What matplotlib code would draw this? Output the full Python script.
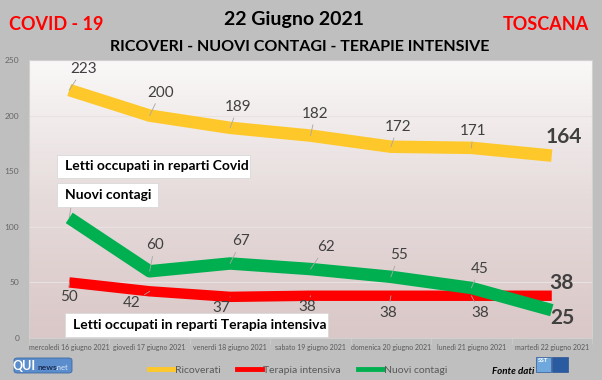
import matplotlib.pyplot as plt
import numpy as np
from matplotlib.colors import LinearSegmentedColormap
from matplotlib.lines import Line2D
from matplotlib.patches import Rectangle, FancyBboxPatch

plt.rcParams['font.family'] = ['Lato', 'DejaVu Sans']

days = ['mercoledì 16 giugno 2021', 'giovedì 17 giugno 2021', 'venerdì 18 giugno 2021',
        'sabato 19 giugno 2021', 'domenica 20 giugno 2021', 'lunedì 21 giugno 2021',
        'martedì 22 giugno 2021']
ricoverati = [223, 200, 189, 182, 172, 171, 164]
terapia = [50, 42, 37, 38, 38, 38, 38]
contagi = [108, 60, 67, 62, 55, 45, 25]

# label offsets in pixels (dx, dy), None = no label
off_ric = [(14, 21), (11, 23), (8, 21), (5, 22), (7, 20), (2, 17), (12, 19)]
off_ter = [(0, -15), (-18, -12), (-9, -11), (-3, -11), (-3, -17), (9, -17), (10, 13)]
off_con = [None, (5, 26), (11, 22), (15, 22), (8, 22), (8, 19), (11, -8)]

W, H = 602, 380
fig = plt.figure(figsize=(W / 100, H / 100), dpi=100)
fig.patch.set_facecolor('#bfbfbf')


def px(x, y):
    return x / W, 1 - y / H


ax = fig.add_axes([29 / W, (H - 338) / H, 563 / W, 278 / H])
ax.set_facecolor('none')
cmap = LinearSegmentedColormap.from_list('bg', ['#dac7c7', '#e6dbdb', '#faf8f8'])
grad = np.linspace(0, 1, 256).reshape(-1, 1)
ax.imshow(grad, extent=[0, 1, 0, 1], transform=ax.transAxes, aspect='auto',
          cmap=cmap, origin='lower', zorder=0)

x = np.arange(len(days))
ax.plot(x, ricoverati, color='#ffc82a', lw=9, solid_capstyle='butt', zorder=3)
ax.plot(x, terapia, color='#ff0000', lw=7.5, solid_capstyle='butt', zorder=3)
ax.plot(x, contagi, color='#00b050', lw=9, solid_capstyle='butt', zorder=4)

ax.set_xlim(-0.5, 6.5)
ax.set_ylim(0, 250)
ax.set_yticks(range(0, 251, 50))
ax.yaxis.grid(True, color='#e9e2e2', lw=0.8)
ax.set_axisbelow(True)
for side in ['top', 'left', 'right']:
    ax.spines[side].set_visible(False)
ax.spines['bottom'].set_color('#d0cccc')
ax.tick_params(axis='y', length=0, pad=7, labelsize=6, labelcolor='#666666')
ax.set_xticks(x)
ax.set_xticklabels(days)
ax.set_xticks(np.arange(-0.5, 7, 1), minor=True)
ax.tick_params(axis='x', which='major', length=0, pad=4, labelsize=5, labelcolor='#595959')
ax.tick_params(axis='x', which='minor', length=4, color='#d0cccc')


def labels(vals, offs, last_big):
    for i, (v, o) in enumerate(zip(vals, offs)):
        if o is None:
            continue
        big = last_big and i == len(vals) - 1
        if big:
            ax.annotate(str(v), (i, v), xytext=o, textcoords='offset pixels',
                        ha='center', va='center', fontsize=15, fontweight='bold',
                        color='#404040', zorder=6)
        else:
            ax.annotate(str(v), (i, v), xytext=o, textcoords='offset pixels',
                        ha='center', va='center', fontsize=11, color='#404040',
                        zorder=6,
                        arrowprops=dict(arrowstyle='-', color='#a6a6a6', lw=0.6,
                                        shrinkA=1, shrinkB=0))


labels(ricoverati, off_ric, True)
labels(terapia, off_ter, True)
labels(contagi, off_con, True)

# first green point leader to box
ax.annotate('', (0, contagi[0]), xytext=(2, 12), textcoords='offset pixels',
            arrowprops=dict(arrowstyle='-', color='#a6a6a6', lw=0.6, shrinkA=0, shrinkB=0))

# plot area border
fig.patches.append(Rectangle(px(29, 338), 563 / W, 278 / H, transform=fig.transFigure,
                             fill=False, ec='#d4d0d0', lw=0.8, zorder=1))

# annotation boxes
boxes = [('Letti occupati in reparti Covid', 57, 155, 250, 178),
         ('Nuovi contagi', 57, 183, 158, 207),
         ('Letti occupati in reparti Terapia intensiva', 65, 313, 328, 337)]
for txt, x0, y0, x1, y1 in boxes:
    fig.patches.append(Rectangle(px(x0, y1), (x1 - x0) / W, (y1 - y0) / H,
                                 transform=fig.transFigure, fc='white', ec='#d9d9d9',
                                 lw=0.6, zorder=7))
    fig.text(*px(x0 + 8, (y0 + y1) / 2), txt, ha='left', va='center', fontsize=10,
             fontweight='bold', color='black', zorder=8)

# titles
fig.text(*px(56, 25), 'COVID - 19', ha='center', va='center', fontsize=13,
         fontweight='bold', color='#ff0000')
fig.text(*px(546, 25), 'TOSCANA', ha='center', va='center', fontsize=13,
         fontweight='bold', color='#ff0000')
fig.text(*px(294, 19), '22 Giugno 2021', ha='center', va='center', fontsize=14,
         fontweight='bold', color='black')
fig.text(*px(300, 47), 'RICOVERI - NUOVI CONTAGI - TERAPIE INTENSIVE', ha='center',
         va='center', fontsize=11.5, fontweight='bold', color='black')

# legend
handles = [Line2D([], [], color='#ffc82a', lw=3.5),
           Line2D([], [], color='#ff0000', lw=3.5),
           Line2D([], [], color='#00b050', lw=3.5)]
fig.legend(handles, ['Ricoverati', 'Terapia intensiva', 'Nuovi contagi'],
           loc='center', bbox_to_anchor=px(298, 370), ncol=3, frameon=False,
           fontsize=7.5, labelcolor='#595959', handlelength=2.4, handletextpad=0.1,
           columnspacing=1.6)

# logos
fig.patches.append(FancyBboxPatch(px(14, 373), 58 / W, 15 / H, transform=fig.transFigure,
                                  boxstyle='round,pad=0,rounding_size=0.006',
                                  fc='#5b8ccc', ec='#3c6aa8', lw=0.6))
fig.text(*px(36, 365.5), 'QUI', ha='right', va='center', fontsize=9, fontweight='bold',
         color='white')
fig.text(*px(37, 367), 'news', ha='left', va='center', fontsize=6, fontweight='bold',
         color='#1d2f55')
fig.text(*px(56, 367), '.net', ha='left', va='center', fontsize=5.5, color='#d8e6f5')

fig.text(*px(513, 371), 'Fonte dati', ha='center', va='center', fontsize=7,
         fontweight='bold', fontstyle='italic', color='black')
fig.patches.append(Rectangle(px(536, 372), 15 / W, 15 / H, transform=fig.transFigure,
                             fc='#6fa8dc', ec='#2f5597', lw=0.5))
fig.patches.append(Rectangle(px(552, 372), 16 / W, 15 / H, transform=fig.transFigure,
                             fc='#2a5aa0', ec='#2f5597', lw=0.5))
fig.text(*px(543.5, 361), 'SST', ha='center', va='center', fontsize=4.5,
         fontweight='bold', color='white')

fig.savefig('out.png', dpi=100, facecolor=fig.get_facecolor())
